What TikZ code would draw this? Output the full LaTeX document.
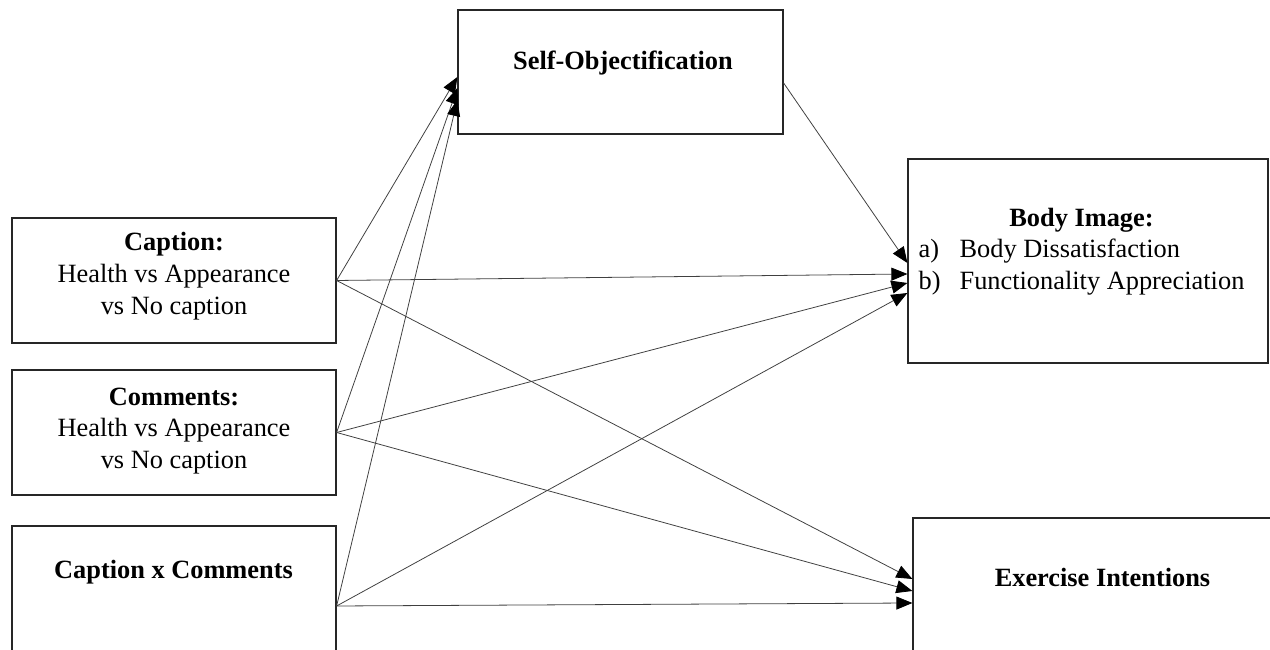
\documentclass[tikz,border=0pt]{standalone}
\usepackage{fontspec}
\setmainfont{Liberation Serif}
\usetikzlibrary{arrows.meta}

\begin{document}
\begin{tikzpicture}[
    box/.style={draw=black!85, line width=0.7pt, inner sep=0pt},
    txt/.style={align=center, inner sep=0pt, font=\fontsize{15}{18.1}\selectfont},
    link/.style={draw=black!75, line width=0.45pt, -{Triangle[length=0.32cm, width=0.26cm, color=black]}}
  ]

    \useasboundingbox (0,0) rectangle (25.4,13);
    \clip (0,0) rectangle (25.4,13);


    \node[box, minimum width=6.48cm, minimum height=2.5cm] (caption) at (3.48,7.39) {};

    \node[txt] (captionText) at (3.48,7.48) {\textbf{Caption:}\\Health vs Appearance\\vs No caption};


    \node[box, minimum width=6.48cm, minimum height=2.5cm] (comments) at (3.48,4.35) {};

    \node[txt] (commentsText) at (3.48,4.38) {\textbf{Comments:}\\Health vs Appearance\\vs No caption};


    \node[box, minimum width=6.48cm, minimum height=3.2cm] (inter) at (3.48,0.88) {};

    \node[txt] (interText) at (3.47,1.56) {\textbf{Caption x Comments}};


    \node[box, minimum width=6.5cm, minimum height=2.48cm] (selfobj) at (12.41,11.56) {};

    \node[txt] (selfobjText) at (12.46,11.74) {\textbf{Self-Objectification}};


    \node[box, minimum width=7.2cm, minimum height=4.08cm] (body) at (21.76,7.78) {};

    \node[txt] (bodyText) at (21.63,7.97) {\begin{tabular}{@{}p{0.82cm}@{}l@{}}
        \multicolumn{2}{c}{\textbf{Body Image:}}\\
        a) & Body Dissatisfaction\\
        b) & Functionality Appreciation
      \end{tabular}};


    \node[box, minimum width=7.44cm, minimum height=2.8cm] (exercise) at (21.98,1.24) {};

    \node[txt] (exerciseText) at (22.05,1.46) {\textbf{Exercise Intentions}};


    \draw[link] (caption.east) -- ([yshift=-0.1cm]selfobj.west);

    \draw[link] (comments.east) -- ([yshift=-0.32cm]selfobj.west);

    \draw[link] (inter.east) -- ([yshift=-0.56cm]selfobj.west);


    \draw[link] ([yshift=-0.22cm]selfobj.east) -- ([yshift=-0.04cm]body.west);

    \draw[link] (caption.east) -- ([yshift=-0.26cm]body.west);

    \draw[link] (comments.east) -- ([yshift=-0.44cm]body.west);

    \draw[link] (inter.east) -- ([yshift=-0.64cm]body.west);


    \draw[link] (caption.east) -- ([yshift=0.18cm]exercise.west);

    \draw[link] (comments.east) -- ([yshift=-0.06cm]exercise.west);

    \draw[link] (inter.east) -- ([yshift=-0.3cm]exercise.west);

  \end{tikzpicture}
\end{document}
